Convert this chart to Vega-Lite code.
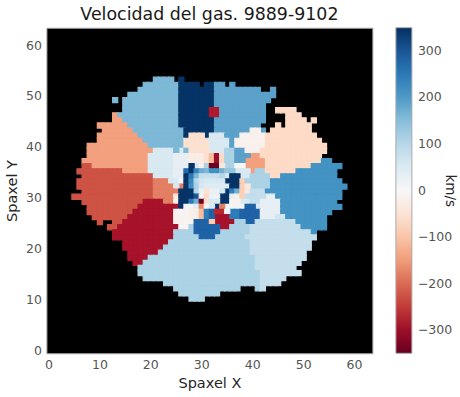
{"$schema":"https://vega.github.io/schema/vega-lite/v6.json","width":326,"height":325.6,"autosize":"none","padding":{"left":46.4,"top":27.7,"right":87.6,"bottom":43.7},"background":"white","config":{"font":"DejaVu Sans","view":{"fill":"#000000","stroke":"#b0b0b0","strokeWidth":1}},"title":{"text":"Velocidad del gas. 9889-9102","font":"DejaVu Sans","fontSize":17.4,"fontWeight":"normal","color":"#1a1a1a","offset":4,"anchor":"middle"},"data":{"values":[
{"y":53,"v":158,"x":[21,22,23,24]},{"y":53,"v":345,"x":[26]},
{"y":52,"v":158,"x":[19,20,21,22,23,24,25]},{"y":52,"v":345,"x":[26,27,28,29,31,32]},{"y":52,"v":190,"x":[33,34,36]},
{"y":51,"v":158,"x":[18,19,20,21,22,23,24,25]},{"y":51,"v":345,"x":[26,27,28,29,30,31,32]},{"y":51,"v":190,"x":[33,34,35,36,37,38,39,40,41,44]},
{"y":50,"v":158,"x":[16,17,18,19,20,21,22,23,24,25]},{"y":50,"v":345,"x":[26,27,28,29,30,31,32]},{"y":50,"v":190,"x":[33,34,35,36,37,38,39,40,41,42,43,44]},
{"y":49,"v":158,"x":[13,15,16,17,18,19,20,21,22,23,24,25]},{"y":49,"v":345,"x":[26,27,28,29,30,31,32]},{"y":49,"v":190,"x":[33,34,35,36,37,38,39,40,41,42,43]},
{"y":48,"v":158,"x":[15,16,17,18,19,20,21,22,23,24,25]},{"y":48,"v":345,"x":[26,27,28,29,30,31,32]},{"y":48,"v":190,"x":[33,34,35,36,37,38,39,40,41,42]},
{"y":47,"v":158,"x":[15,16,17,18,19,20,21,22,23,24,25]},{"y":47,"v":345,"x":[26,27,28,29,30,31]},{"y":47,"v":-280,"x":[32,33]},{"y":47,"v":190,"x":[34,35,36,37,38,39,40,41,42]},{"y":47,"v":-70,"x":[45,46,47,48]},
{"y":46,"v":-145,"x":[13]},{"y":46,"v":158,"x":[14,15,16,17,18,19,20,21,22,23,24,25]},{"y":46,"v":345,"x":[26,27,28,29,30,31]},{"y":46,"v":-280,"x":[32,33]},{"y":46,"v":190,"x":[34,35,36,37,38,39,40,41,42]},{"y":46,"v":-70,"x":[47,48,49]},
{"y":45,"v":-145,"x":[13,14]},{"y":45,"v":158,"x":[15,16,17,18,19,20,21,22,23,24,25]},{"y":45,"v":345,"x":[26,27,28,29,30,31,32]},{"y":45,"v":190,"x":[33,34,35,36,37,38,39,40,41,42]},{"y":45,"v":-70,"x":[47,48,49,50,52]},
{"y":44,"v":-145,"x":[10,11,12,13,14,15]},{"y":44,"v":158,"x":[16,17,18,19,20,21,22,23,24,25]},{"y":44,"v":345,"x":[26,27,28,29,30,31,32]},{"y":44,"v":190,"x":[33,34,35,36,37,38,39,40,41]},{"y":44,"v":-70,"x":[45,47,48,49,50,51]},
{"y":43,"v":-145,"x":[11,12,13,14,15,16]},{"y":43,"v":158,"x":[17,18,19,20,21,22,23,24,25,26]},{"y":43,"v":345,"x":[27,28,29,30,31,32]},{"y":43,"v":190,"x":[33,34,35,36,37,38,39,42]},{"y":43,"v":-15,"x":[40,41]},{"y":43,"v":-70,"x":[44,45,46,47,48,49,50,51]},
{"y":42,"v":-145,"x":[10,11,12,13,14,15,16,17]},{"y":42,"v":158,"x":[18,19,20,21,22,23,24,25,26]},{"y":42,"v":345,"x":[27,31]},{"y":42,"v":-55,"x":[28,29,30]},{"y":42,"v":55,"x":[32,33,34]},{"y":42,"v":190,"x":[35,36,37]},{"y":42,"v":-15,"x":[38,39,40,41,42]},{"y":42,"v":-70,"x":[43,44,45,46,47,48,49,50,51,52]},
{"y":41,"v":-145,"x":[10,11,12,13,14,15,16,17,18]},{"y":41,"v":158,"x":[19,20,21,22,23,24,25,26]},{"y":41,"v":-55,"x":[27,28,29,30,31]},{"y":41,"v":55,"x":[32,33,34,35]},{"y":41,"v":190,"x":[36]},{"y":41,"v":-15,"x":[37,38,39,40,41,42]},{"y":41,"v":-70,"x":[43,44,45,46,47,48,49,50,51,52,53]},
{"y":40,"v":-145,"x":[8,9,10,11,12,13,14,15,16,17,18,19]},{"y":40,"v":158,"x":[20,21,22,23,24,25,26]},{"y":40,"v":-55,"x":[27,28,29,30,31]},{"y":40,"v":55,"x":[32,33,34,35]},{"y":40,"v":190,"x":[36]},{"y":40,"v":-15,"x":[37,38,39,40,41,42]},{"y":40,"v":-70,"x":[43,44,45,46,47,48,49,50,51,52,53,54]},
{"y":39,"v":-145,"x":[8,9,10,11,12,13,14,15,16,17,18,19,20]},{"y":39,"v":55,"x":[21,22,23,24,26,32,33,34]},{"y":39,"v":158,"x":[25,27]},{"y":39,"v":-55,"x":[28,29,30,31]},{"y":39,"v":112,"x":[35,36]},{"y":39,"v":190,"x":[37,38]},{"y":39,"v":-15,"x":[39,40,41]},{"y":39,"v":-70,"x":[42,43,44,45,46,47,48,49,50,51,52,53,54]},
{"y":38,"v":-145,"x":[8,9,10,11,12,13,14,15,16,17,18,19,40,41]},{"y":38,"v":55,"x":[20,21,22,23,24]},{"y":38,"v":30,"x":[25,26,27]},{"y":38,"v":-25,"x":[28,29,30]},{"y":38,"v":-60,"x":[31]},{"y":38,"v":-110,"x":[32]},{"y":38,"v":-300,"x":[33]},{"y":38,"v":-70,"x":[34,42,43,44,45,46,47,48,49,50,51,52,53]},{"y":38,"v":112,"x":[35,36]},{"y":38,"v":190,"x":[37,38,39]},
{"y":37,"v":-145,"x":[7,8,9,10,11,12,13,14,15,16,17,18,19,39,40,41,42]},{"y":37,"v":55,"x":[20,21,22,23,24]},{"y":37,"v":30,"x":[25,26,27]},{"y":37,"v":-25,"x":[28,29,30]},{"y":37,"v":-60,"x":[31]},{"y":37,"v":-110,"x":[32]},{"y":37,"v":-300,"x":[33]},{"y":37,"v":-70,"x":[34,43,44,45,46,47,48,49,50,51,52,53]},{"y":37,"v":112,"x":[35,36]},{"y":37,"v":190,"x":[37,38]},{"y":37,"v":210,"x":[54,55]},
{"y":36,"v":-225,"x":[7,8]},{"y":36,"v":-145,"x":[9,10,11,12,13,14,15,16,17,18,19,39,40,41,42]},{"y":36,"v":55,"x":[20,21,22,23,24,29]},{"y":36,"v":30,"x":[25,26,27]},{"y":36,"v":345,"x":[28]},{"y":36,"v":-15,"x":[30]},{"y":36,"v":112,"x":[31,35,36]},{"y":36,"v":-345,"x":[32,33]},{"y":36,"v":-40,"x":[34]},{"y":36,"v":5,"x":[37,38]},{"y":36,"v":-70,"x":[43,44,45,46,47,48,49,50,51]},{"y":36,"v":210,"x":[52,53,54,55,56,57]},
{"y":35,"v":-225,"x":[6,7,8,9,10,11,12,13,14]},{"y":35,"v":-145,"x":[15,16,17,18,19,40]},{"y":35,"v":55,"x":[20,21,22,23,24,37,38,39]},{"y":35,"v":30,"x":[25,26]},{"y":35,"v":270,"x":[27]},{"y":35,"v":345,"x":[28]},{"y":35,"v":230,"x":[29]},{"y":35,"v":175,"x":[30]},{"y":35,"v":158,"x":[31]},{"y":35,"v":215,"x":[32,33]},{"y":35,"v":170,"x":[34]},{"y":35,"v":140,"x":[35,36]},{"y":35,"v":112,"x":[41,42]},{"y":35,"v":-70,"x":[43,44,45,46,47,48]},{"y":35,"v":210,"x":[49,50,51,52,53,54,55,56]},
{"y":34,"v":-225,"x":[7,8,9,10,11,12,13,14,15,16,17,18,19,20]},{"y":34,"v":55,"x":[21,22,23,24,35,38,39]},{"y":34,"v":30,"x":[25,26]},{"y":34,"v":345,"x":[27,36,37]},{"y":34,"v":250,"x":[28]},{"y":34,"v":158,"x":[29]},{"y":34,"v":85,"x":[30]},{"y":34,"v":80,"x":[31,32,33]},{"y":34,"v":100,"x":[34]},{"y":34,"v":112,"x":[40,41,42,43]},{"y":34,"v":-70,"x":[44,45]},{"y":34,"v":210,"x":[46,47,48,49,50,51,52,53,54,55,56]},
{"y":33,"v":-225,"x":[6,7,8,9,10,11,12,13,14,15,16,17,18,19,20]},{"y":33,"v":-180,"x":[21,22,23]},{"y":33,"v":55,"x":[24,25]},{"y":33,"v":10,"x":[26]},{"y":33,"v":345,"x":[27,35,36,37]},{"y":33,"v":225,"x":[28]},{"y":33,"v":100,"x":[29]},{"y":33,"v":70,"x":[30]},{"y":33,"v":60,"x":[31,32,33,34]},{"y":33,"v":-85,"x":[38]},{"y":33,"v":112,"x":[39,40,41,42,43]},{"y":33,"v":210,"x":[44,45,46,47,48,49,50,51,52,53,54,55,56,57]},
{"y":32,"v":-225,"x":[6,7,8,9,10,11,12,13,14,15,16,17,18,19,20]},{"y":32,"v":-180,"x":[21,22,23,24,26]},{"y":32,"v":55,"x":[25,35]},{"y":32,"v":345,"x":[27,36,37]},{"y":32,"v":215,"x":[28]},{"y":32,"v":112,"x":[29,40,41,42,43]},{"y":32,"v":60,"x":[30]},{"y":32,"v":45,"x":[31,32,33,34]},{"y":32,"v":-85,"x":[38]},{"y":32,"v":-40,"x":[39]},{"y":32,"v":210,"x":[44,45,46,47,48,49,50,51,52,53,54,55,56,57,58]},
{"y":31,"v":-225,"x":[7,8,9,10,11,12,13,14,15,16,17,18,19,20]},{"y":31,"v":-180,"x":[21,22,23,24,25]},{"y":31,"v":345,"x":[26,27,28,35]},{"y":31,"v":100,"x":[29]},{"y":31,"v":25,"x":[30,32,33]},{"y":31,"v":-50,"x":[31]},{"y":31,"v":60,"x":[34]},{"y":31,"v":240,"x":[36]},{"y":31,"v":170,"x":[37]},{"y":31,"v":-85,"x":[38]},{"y":31,"v":-40,"x":[39]},{"y":31,"v":85,"x":[40,41,42]},{"y":31,"v":210,"x":[43,44,45,46,47,48,49,50,51,52,53,54,55,56,57]},
{"y":30,"v":-225,"x":[5,6,7,8,9,10,11,12,13,14,15,16,17,18,19,20]},{"y":30,"v":-180,"x":[21,22,23,24]},{"y":30,"v":-40,"x":[25]},{"y":30,"v":345,"x":[26,27,28,34,35]},{"y":30,"v":300,"x":[29]},{"y":30,"v":-10,"x":[30]},{"y":30,"v":-70,"x":[31]},{"y":30,"v":20,"x":[32,33]},{"y":30,"v":30,"x":[36,43,44]},{"y":30,"v":-20,"x":[37]},{"y":30,"v":-85,"x":[38]},{"y":30,"v":85,"x":[39,40,41,42]},{"y":30,"v":210,"x":[45,46,47,48,49,50,51,52,53,54,55,56,57]},
{"y":29,"v":-225,"x":[7,8,9,10,11,12,13,14,15,16,17,18]},{"y":29,"v":-290,"x":[19,20,21,22]},{"y":29,"v":-180,"x":[23,24]},{"y":29,"v":-20,"x":[25]},{"y":29,"v":345,"x":[26,27,34,35]},{"y":29,"v":250,"x":[28]},{"y":29,"v":170,"x":[29]},{"y":29,"v":-345,"x":[30]},{"y":29,"v":-60,"x":[31]},{"y":29,"v":55,"x":[32,33,38,39]},{"y":29,"v":-10,"x":[36,37]},{"y":29,"v":85,"x":[40,41]},{"y":29,"v":30,"x":[42,43,44,45]},{"y":29,"v":210,"x":[46,47,48,49,50,51,52,53,54,55,56]},
{"y":28,"v":-225,"x":[8,9,10,11,12,13,14,15,16,17]},{"y":28,"v":-290,"x":[18,19,20,21,22,23,24,25]},{"y":28,"v":345,"x":[26,33]},{"y":28,"v":10,"x":[27,28,35,36,37,38]},{"y":28,"v":40,"x":[29]},{"y":28,"v":-170,"x":[30]},{"y":28,"v":-10,"x":[31]},{"y":28,"v":55,"x":[32,41]},{"y":28,"v":-180,"x":[34]},{"y":28,"v":285,"x":[39,40]},{"y":28,"v":30,"x":[42,43,44,45]},{"y":28,"v":210,"x":[46,47,48,49,50,51,52,53,54,55,56,57]},
{"y":27,"v":-225,"x":[8,9,10,11,12,13,14,15,16]},{"y":27,"v":-290,"x":[17,18,19,20,21,22,23,24]},{"y":27,"v":-10,"x":[25,26,27]},{"y":27,"v":-20,"x":[28,29]},{"y":27,"v":-110,"x":[30]},{"y":27,"v":245,"x":[31,36,37]},{"y":27,"v":285,"x":[32,38,39,40,41]},{"y":27,"v":-270,"x":[33,34]},{"y":27,"v":10,"x":[35]},{"y":27,"v":30,"x":[42,43,44,45]},{"y":27,"v":210,"x":[46,47,48,49,50,51,52,53,54,55]},
{"y":26,"v":-225,"x":[9,10,11,12,13,14,15]},{"y":26,"v":-290,"x":[16,17,18,19,20,21,22,23,24,33,34,35]},{"y":26,"v":-10,"x":[25,26,27]},{"y":26,"v":-20,"x":[28,29]},{"y":26,"v":-110,"x":[30]},{"y":26,"v":245,"x":[31,36,37]},{"y":26,"v":285,"x":[32,38,39,40,41]},{"y":26,"v":30,"x":[42,43,44]},{"y":26,"v":70,"x":[45,46]},{"y":26,"v":210,"x":[47,48,49,50,51,52,53,54]},
{"y":25,"v":-225,"x":[10,13,14]},{"y":25,"v":-290,"x":[15,16,17,18,19,20,21,22,23,24,33,34,35,36]},{"y":25,"v":-10,"x":[25,26,27,28]},{"y":25,"v":285,"x":[29,30,31,39,40]},{"y":25,"v":-90,"x":[32]},{"y":25,"v":112,"x":[37,38]},{"y":25,"v":85,"x":[41,42,43,44,45,46,47,48]},{"y":25,"v":210,"x":[49,50,51,52,53,54]},
{"y":24,"v":-225,"x":[12,13]},{"y":24,"v":-290,"x":[14,15,16,17,18,19,20,21,22,23,24,25,34,35]},{"y":24,"v":-10,"x":[26,27]},{"y":24,"v":112,"x":[28,36,37,38,39]},{"y":24,"v":285,"x":[29,30,31,32,33]},{"y":24,"v":85,"x":[40,41,42,43,44,45,46,47,48,49]},{"y":24,"v":210,"x":[50,51,52,53,54]},
{"y":23,"v":-290,"x":[13,14,15,16,17,18,19,20,21,22,23,24]},{"y":23,"v":112,"x":[25,26,27,28,34,35,36,37,38,39]},{"y":23,"v":285,"x":[29,30,31,32,33]},{"y":23,"v":85,"x":[40,41,42,43,44,45,46,47,48,49,50,51]},{"y":23,"v":210,"x":[52]},
{"y":22,"v":-290,"x":[13,14,15,16,17,18,19,20,21,22,23,24]},{"y":22,"v":112,"x":[25,26,27,28,29,33,34,35,36,37,38]},{"y":22,"v":285,"x":[30,31,32]},{"y":22,"v":85,"x":[39,40,41,42,43,44,45,46,47,48,49,50,51,52]},
{"y":21,"v":-290,"x":[15,16,17,18,19,20,21,22,23]},{"y":21,"v":112,"x":[24,25,26,27,28,29,30,31,32,33,34,35,36,37,38,39]},{"y":21,"v":85,"x":[40,41,42,43,44,45,46,47,48,49,50,51]},
{"y":20,"v":-290,"x":[15,16,17,18,19,20,21,22]},{"y":20,"v":112,"x":[23,24,25,26,27,28,29,30,31,32,33,34,35,36,37,38,39]},{"y":20,"v":85,"x":[40,41,42,43,44,45,46,47,48,49,50,51]},
{"y":19,"v":-290,"x":[16,17,18,19,20,21]},{"y":19,"v":112,"x":[22,23,24,25,26,27,28,29,30,31,32,33,34,35,36,37,38,39]},{"y":19,"v":85,"x":[40,41,42,43,44,45,46,47,48,49,50]},
{"y":18,"v":-290,"x":[16,17,18,19]},{"y":18,"v":112,"x":[20,21,22,23,24,25,26,27,28,29,30,31,32,33,34,35,36,37,38,39,40]},{"y":18,"v":85,"x":[41,42,43,44,45,46,47,48,49,50]},
{"y":17,"v":-290,"x":[17,18]},{"y":17,"v":112,"x":[19,20,21,22,23,24,25,26,27,28,29,30,31,32,33,34,35,36,37,38,39,40]},{"y":17,"v":85,"x":[41,42,43,44,45,46,47,48,49]},
{"y":16,"v":112,"x":[18,19,20,21,22,23,24,25,26,27,28,29,30,31,32,33,34,35,36,37,38,39,40]},{"y":16,"v":85,"x":[41,42,43,44,45,46,47,48]},
{"y":15,"v":112,"x":[18,19,20,21,22,23,24,25,26,27,28,29,30,31,32,33,34,35,36,37,38,39,40,41]},{"y":15,"v":85,"x":[42,43,44,45,46,47,48,49]},
{"y":14,"v":112,"x":[19,20,21,22,23,24,25,26,27,28,29,30,31,32,33,34,35,36,37,38,39,40,41]},{"y":14,"v":85,"x":[42,43,44,45,46]},
{"y":13,"v":112,"x":[23,24,25,26,27,28,29,30,31,32,33,34,35,36,37,38,39,40,41]},{"y":13,"v":85,"x":[42,43,44,45]},
{"y":12,"v":112,"x":[25,26,27,28,29,30,31,32,33,34,35,36,37,41]},{"y":12,"v":85,"x":[42]},
{"y":11,"v":112,"x":[26,27,28,29,30,31,32,33]},
{"y":10,"v":112,"x":[28,29,30]}
]},"transform":[{"flatten":["x"]}],"mark":{"type":"rect","strokeWidth":1.2,"stroke":{"expr":"scale('fill',datum.v)"},"opacity":1,"yOffset":-1.4},"encoding":{
"x":{"field":"x","type":"ordinal","scale":{"domain":[0,1,2,3,4,5,6,7,8,9,10,11,12,13,14,15,16,17,18,19,20,21,22,23,24,25,26,27,28,29,30,31,32,33,34,35,36,37,38,39,40,41,42,43,44,45,46,47,48,49,50,51,52,53,54,55,56,57,58,59,60,61,62,63],"paddingInner":0,"paddingOuter":0},"axis":{"values":[0,10,20,30,40,50,60],"labelAngle":0,"title":"Spaxel X","titleFontSize":14.5,"titleFontWeight":"normal","titleColor":"#262626","titlePadding":6,"labelFontSize":12.5,"labelColor":"#555555","labelPadding":5,"ticks":false,"domain":false,"grid":false}},
"y":{"field":"y","type":"ordinal","scale":{"domain":[63,62,61,60,59,58,57,56,55,54,53,52,51,50,49,48,47,46,45,44,43,42,41,40,39,38,37,36,35,34,33,32,31,30,29,28,27,26,25,24,23,22,21,20,19,18,17,16,15,14,13,12,11,10,9,8,7,6,5,4,3,2,1,0],"paddingInner":0,"paddingOuter":0},"axis":{"values":[0,10,20,30,40,50,60],"title":"Spaxel Y","titleFontSize":14.5,"titleFontWeight":"normal","titleColor":"#262626","titlePadding":6,"labelFontSize":12.5,"labelColor":"#555555","labelPadding":5,"ticks":false,"domain":false,"grid":false}},
"fill":{"field":"v","type":"quantitative","scale":{"domain":[-350,-280,-210,-140,-70,0,70,140,210,280,350],"range":["#67001f","#b2182b","#d6604d","#f4a582","#fddbc7","#f7f7f7","#d1e5f0","#92c5de","#4393c3","#2166ac","#053061"]},"legend":{"title":"km/s","orient":"none","legendX":349.5,"legendY":0,"gradientLength":325.6,"gradientThickness":16,"gradientStrokeColor":"#aaaaaa","gradientStrokeWidth":1,"tickCount":7,"labelExpr":"replace(datum.label,'-','−')","labelFontSize":12.5,"labelColor":"#555555","labelOffset":6,"titleFontSize":13.5,"titleFontWeight":"normal","titleColor":"#262626","titleOrient":"right","titlePadding":-9,"encode":{"title":{"update":{"angle":{"value":90}}}}}}
}}
